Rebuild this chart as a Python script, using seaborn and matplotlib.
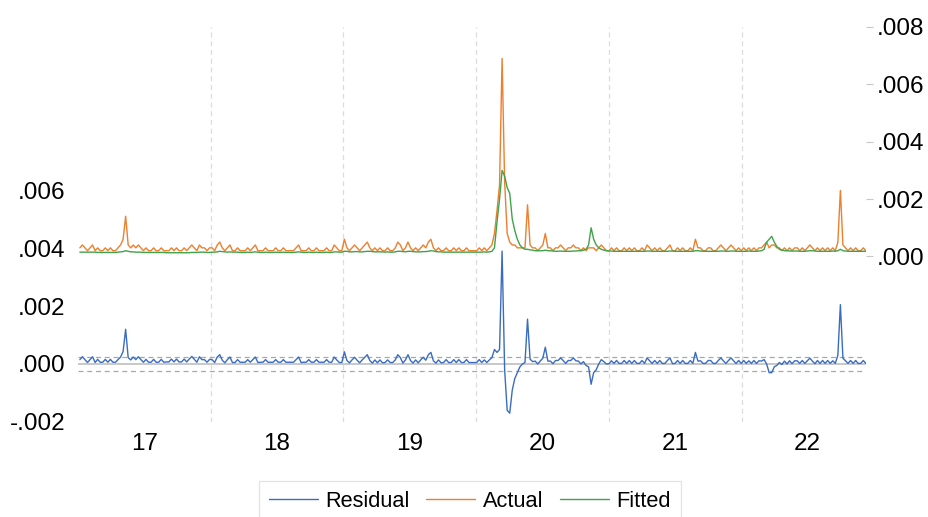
import numpy as np
import pandas as pd
import matplotlib
matplotlib.use("Agg")
import matplotlib.pyplot as plt
import seaborn as sns

# Weekly observations, values in units of 1e-4
actual_2017 = [3,4,3,2,3,4,2,3,2,2,3,2,3,2,2,3,4,6,14,4,3,4,3,4,3,2,3,2,2,3,2,2,3,2,2,2,3,2,3,2,2,3,2,3,4,3,2,4,3,3,2,3]
actual_2018 = [3,2,4,5,3,2,3,4,2,2,3,2,2,2,3,2,3,4,2,2,2,3,2,2,2,3,2,2,3,2,2,2,2,3,4,2,2,2,3,2,2,3,2,2,2,3,2,2,4,3,2,2]
actual_2019 = [6,3,2,3,4,3,2,3,4,5,3,2,3,2,3,2,2,3,2,2,3,5,4,2,3,5,3,2,3,2,3,4,3,5,6,3,2,3,2,2,3,2,2,3,2,3,2,2,3,2,2,2]
actual_2020 = [2,3,2,3,2,3,4, 8,16,25,69,26,8,5,4,4,3,3,3,3,
               18,4,3,3,2,3,4,8,3,3, 2,3,3,4,3,2,3,3,4,3,
               3,2,3,2,3,3,3,2,3,4, 3,2]
actual_2021 = [2,3,2,3,2,2,3,2,3,2, 3,2,2,3,2,4,3,2,3,2, 3,2,2,3,4,2,2,3,2,3,
               2,2,3,2,6,3,3,2,2,3, 3,2,2,3,4,3,2,3,4,3, 2,3]
actual_2022 = [2,3,2,3,2,3,2,3,3,4, 5,3,4,4,3,3,2,3,2,3, 2,3,3,2,3,2,3,4,3,2,
               3,2,3,2,3,2,3,2,5,23, 4,3,2,3,2,3,2,2,3,2]

fitted_2017 = [1.5,1.5,1.5,1.5,1.5,1.5,1.5,1.4,1.4,1.4,1.4,1.4,1.4,1.4,1.4,1.5,1.6,1.7,2.0,1.8,1.6,1.6,1.5,1.5,1.5,1.4,
               1.4,1.4,1.4,1.4,1.4,1.4,1.4,1.4,1.3,1.3,1.3,1.3,1.3,1.3,1.3,1.3,1.3,1.3,1.4,1.4,1.4,1.5,1.5,1.5,1.4,1.4]
fitted_2018 = [1.5,1.5,1.6,1.8,1.7,1.6,1.5,1.6,1.5,1.5, 1.5,1.4,1.4,1.4,1.5,1.4,1.5,1.6,1.5,1.4,
               1.4,1.5,1.4,1.4,1.4,1.5,1.4,1.4,1.5,1.4, 1.4,1.4,1.4,1.5,1.6,1.5,1.4,1.4,1.5,1.4,
               1.4,1.5,1.4,1.4,1.4,1.5,1.4,1.4,1.6,1.6, 1.5,1.5]
fitted_2019 = [1.8,1.8,1.6,1.6,1.7,1.7,1.6,1.6,1.7,1.8, 1.8,1.7,1.6,1.6,1.6,1.6,1.5,1.6,1.5,1.5,
               1.6,1.8,1.8,1.7,1.6,1.8,1.8,1.7,1.6,1.6, 1.6,1.7,1.7,1.8,2.0,1.9,1.7,1.6,1.6,1.5,
               1.5,1.5,1.5,1.5,1.5,1.5,1.5,1.5,1.5,1.5, 1.5,1.5]
fitted_2020 = [1.5,1.5,1.5,1.6,1.5,1.6,1.8, 3,12,20,30,28,24,22,13,9,6,4,3,2.5,
               2.5,2.3,2.2,2,2,2,2,2.2,2,2, 1.9,1.8,1.8,1.9,1.8,1.8,1.8,1.8,1.9,1.9,
               2,2,2.2,2.5,4,10,6,4,3,2.5, 2.2,2]
fitted_2021 = [1.9,1.9,1.8,1.8,1.8,1.8,1.8,1.8,1.8,1.8, 1.8,1.8,1.8,1.8,1.8,1.9,1.9,1.8,1.8,1.8,
               1.8,1.8,1.8,1.8,1.9,1.9,1.8,1.8,1.8,1.8, 1.8,1.8,1.8,1.8,2.0,2.0,1.9,1.8,1.8,1.8,
               1.8,1.8,1.8,1.8,1.9,1.9,1.8,1.8,1.9,1.9, 1.8,1.8]
fitted_2022 = [1.8,1.8,1.8,1.9,1.8,1.8,1.8,1.9,2,2.5, 5,6,7,5,3.5,2.5,2.2,2,2,1.9,
               1.9,1.9,1.9,1.8,1.8,1.8,1.9,2,2,1.9, 1.8,1.8,1.8,1.8,1.8,1.8,1.9,1.8,2,2.5,
               2,1.9,1.8,1.8,1.8,1.8,1.8,1.8,1.8,1.8]

actual = np.array(actual_2017 + actual_2018 + actual_2019 + actual_2020 + actual_2021 + actual_2022) * 1e-4
fitted = np.array(fitted_2017 + fitted_2018 + fitted_2019 + fitted_2020 + fitted_2021 + fitted_2022) * 1e-4
residual = actual - fitted
regression_se = 0.00024

dates = pd.date_range("2017-01-06", periods=len(actual), freq="7D")
df = pd.DataFrame({"date": dates, "Residual": residual, "Actual": actual, "Fitted": fitted})

year_labels = ["17", "18", "19", "20", "21", "22"]
years = [2017, 2018, 2019, 2020, 2021, 2022]

sns.set_style("white")
plt.rcParams["font.family"] = ["Liberation Sans", "DejaVu Sans"]
plt.rcParams["text.color"] = "black"
plt.rcParams["xtick.color"] = "black"
plt.rcParams["ytick.color"] = "black"

c_res, c_act, c_fit = "#3a6cc0", "#ee7f2d", "#3fa34a"

fig = plt.figure(figsize=(9.29, 5.17), dpi=100)
ax = fig.add_axes([0.084, 0.184, 0.848, 0.764])
ax2 = ax.twinx()

# residual panel guides
ax.axhline(0, color="#c4c4c4", lw=1.3, zorder=1)
ax.axhline(regression_se, color="#a8a8a8", lw=0.9, ls=(0, (4, 3)), zorder=1)
ax.axhline(-regression_se, color="#a8a8a8", lw=0.9, ls=(0, (4, 3)), zorder=1)

sns.lineplot(data=df, x="date", y="Residual", ax=ax, color=c_res, lw=1.0, label="Residual", legend=False)
sns.lineplot(data=df, x="date", y="Actual", ax=ax2, color=c_act, lw=1.0, label="Actual", legend=False)
sns.lineplot(data=df, x="date", y="Fitted", ax=ax2, color=c_fit, lw=1.0, label="Fitted", legend=False)

# year separators
for y in years[1:]:
    ax.axvline(pd.Timestamp(f"{y}-01-01"), color="#dcdcdc", lw=0.9, ls=(0, (4, 3)), zorder=0)

ax.set_xlim(pd.Timestamp("2017-01-01"), dates[-1])
ax.set_ylim(-0.002, 0.011645)
ax2.set_ylim(-0.005764, 0.008)

left_ticks = [-0.002, 0.0, 0.002, 0.004, 0.006]
right_ticks = [0.0, 0.002, 0.004, 0.006, 0.008]
fmt = lambda v: ("-" if v < 0 else "") + f"{abs(v):.3f}"[1:]
ax.set_yticks(left_ticks)
ax.set_yticklabels([fmt(v) for v in left_ticks])
ax2.set_yticks(right_ticks)
ax2.set_yticklabels([fmt(v) for v in right_ticks])

mids = [pd.Timestamp(f"{y}-07-02") for y in years]
ax.set_xticks(mids)
ax.set_xticklabels(year_labels)

ax.tick_params(axis="x", length=0, labelsize=17.5, pad=8, colors="black")
ax.tick_params(axis="y", length=0, labelsize=17.5, pad=9, colors="black")
ax2.tick_params(axis="y", length=5, color="#c8c8c8", labelcolor="black", labelsize=17.5, pad=3)
ax.set_xlabel("")
ax.set_ylabel("")
ax2.set_ylabel("")
for a in (ax, ax2):
    for s in a.spines.values():
        s.set_visible(False)

h1, l1 = ax.get_legend_handles_labels()
h2, l2 = ax2.get_legend_handles_labels()
leg = fig.legend(h1 + h2, l1 + l2, loc="lower center", bbox_to_anchor=(0.506, -0.009), ncol=3,
                 frameon=True, fontsize=15.7, handlelength=2.25, handletextpad=0.35,
                 columnspacing=0.75, fancybox=False, borderpad=0.45, borderaxespad=0)
leg.get_frame().set_edgecolor("#dddddd")
leg.get_frame().set_linewidth(0.9)

fig.savefig("out.png", dpi=100)
